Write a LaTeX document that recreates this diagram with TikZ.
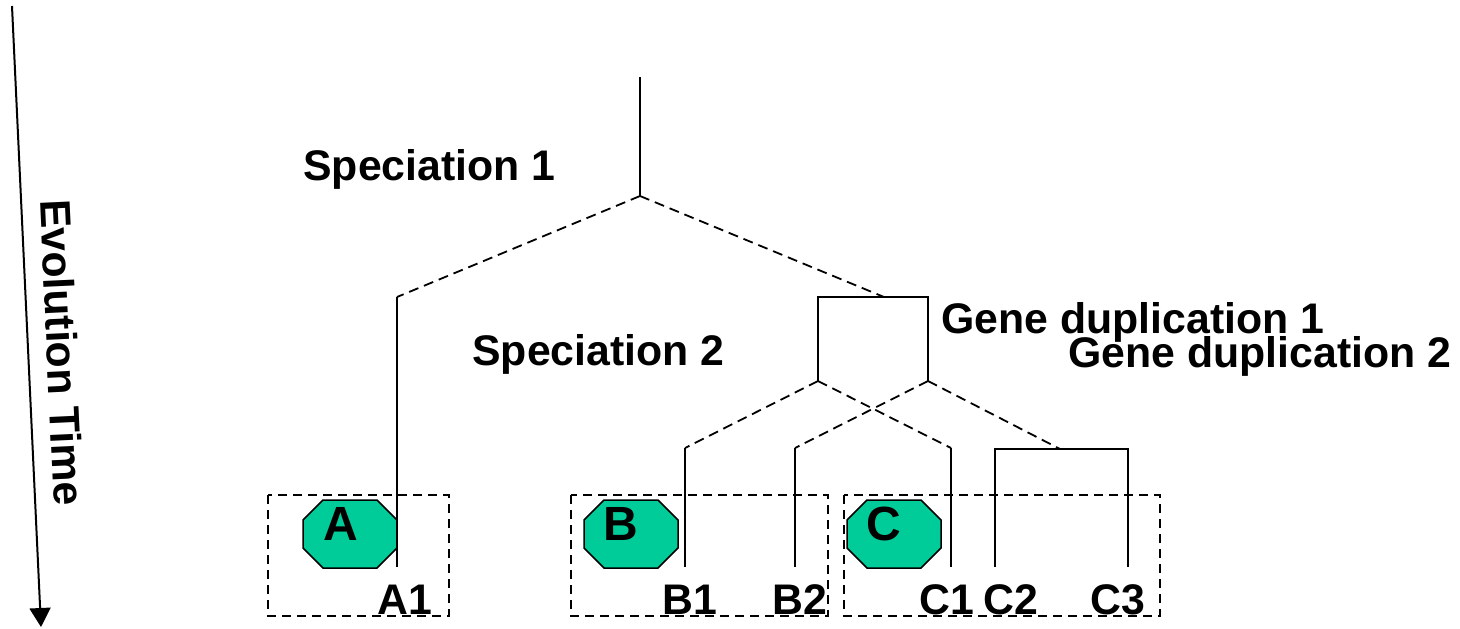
\documentclass[tikz,border=0pt]{standalone}
\usepackage{fontspec}
\setmainfont{Liberation Sans}
\usetikzlibrary{arrows.meta}
\definecolor{speciesgreen}{RGB}{0,204,153}

\begin{document}
\begin{tikzpicture}[
		x=0.5pt, y=-0.5pt,
		branch/.style={line width=1pt},
		link/.style={line width=0.9pt, dash pattern=on 5pt off 3pt},
		group/.style={draw, line width=0.9pt, dash pattern=on 4.5pt off 3pt},
		species/.style={draw, line width=0.75pt, fill=speciesgreen, line join=miter},
		letter/.style={font=\fontsize{24}{28}\selectfont\bfseries, inner sep=0pt, anchor=base west},
		tag/.style={font=\fontsize{21.4}{25}\selectfont\bfseries, inner sep=0pt, anchor=base west},
		timeline/.style={line width=1pt, -{Triangle[length=9.5pt,width=10.5pt]}},
	]
		\useasboundingbox (0,0) rectangle (1460,628);
		
		% species groups
		\draw[group] (268,495) rectangle (449,616);
		\draw[group] (571,495) rectangle (828,616);
		\draw[group] (844,495) rectangle (1160,616);
		
		\foreach \xl in {303,584,847}
			\draw[species] (\xl+20,500) -- (\xl+74,500) -- (\xl+94,520) -- (\xl+94,548)
				-- (\xl+74,568) -- (\xl+20,568) -- (\xl,548) -- (\xl,520) -- cycle;
		\node (letA) [letter] at (323,540) {A};
		\node (letB) [letter] at (603,540) {B};
		\node (letC) [letter] at (866,540) {C};
		
		% tree
		\coordinate (root) at (640,77);
		\coordinate (sp1) at (640,196);
		\coordinate (aTop) at (397,297);
		\coordinate (sp2) at (884,297);
		\coordinate (dup1L) at (818,297);
		\coordinate (dup1R) at (928,297);
		\coordinate (dup1Lb) at (818,381);
		\coordinate (dup1Rb) at (928,381);
		\coordinate (b1Top) at (685,448);
		\coordinate (b2Top) at (795,448);
		\coordinate (c1Top) at (951,448);
		\coordinate (dup2) at (1060,449);
		\coordinate (dup2L) at (995,449);
		\coordinate (dup2R) at (1128,449);
		\coordinate (a1) at (397,567);
		\coordinate (b1) at (685,567);
		\coordinate (b2) at (795,567);
		\coordinate (c1) at (951,567);
		\coordinate (c2) at (995,567);
		\coordinate (c3) at (1128,567);
		
		\draw[branch] (root) -- (sp1);
		\draw[link] (sp1) -- (aTop);
		\draw[link] (sp1) -- (sp2);
		\draw[branch] (aTop) -- (a1);
		\draw[branch] (dup1Lb) -- (dup1L) -- (dup1R) -- (dup1Rb);
		\draw[link] (dup1Lb) -- (b1Top);
		\draw[link] (dup1Lb) -- (c1Top);
		\draw[link] (dup1Rb) -- (b2Top);
		\draw[link] (dup1Rb) -- (dup2);
		\draw[branch] (b1Top) -- (b1);
		\draw[branch] (b2Top) -- (b2);
		\draw[branch] (c1Top) -- (c1);
		\draw[branch] (c2) -- (dup2L) -- (dup2R) -- (c3);
		
		% labels
		\node (spec1) [tag] at (303,180) {Speciation 1};
		\node (spec2) [tag] at (472,365) {Speciation 2};
		\node (gdup1) [tag] at (941,333) {Gene duplication 1};
		\node (gdup2) [tag] at (1068,367) {Gene duplication 2};
		\node (tagA1) [tag] at (377,614) {A1};
		\node (tagB1) [tag] at (662,614) {B1};
		\node (tagB2) [tag] at (772,614) {B2};
		\node (tagC1) [tag] at (919,614) {C1};
		\node (tagC2) [tag] at (983,614) {C2};
		\node (tagC3) [tag] at (1090,614) {C3};
		
		% time axis
		\coordinate (tStart) at (12,6);
		\coordinate (tEnd) at (41,627);
		\draw[timeline] (tStart) -- (tEnd);
		\node (evo) [tag, rotate=-87.3] at (40,200) {Evolution Time};
	\end{tikzpicture}
\end{document}
